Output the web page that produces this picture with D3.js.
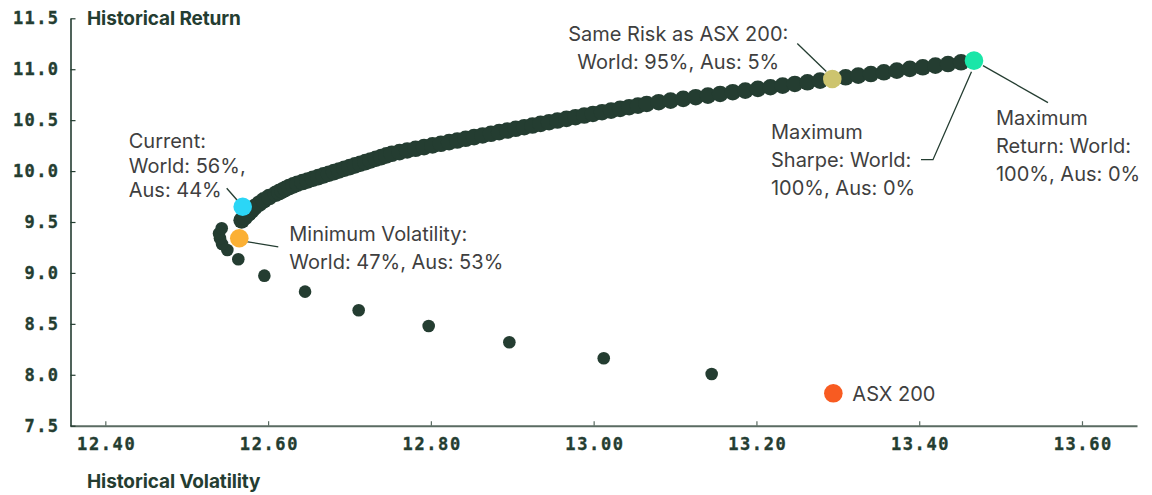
<!DOCTYPE html>
<html>
<head>
<meta charset="utf-8">
<script src="https://cdn.jsdelivr.net/npm/d3@7"></script>
<style>
  html, body { margin: 0; padding: 0; background: #ffffff; }
  svg { display: block; }
</style>
</head>
<body>
<svg id="chart" width="1152" height="495"></svg>
<script>
// ---------------- DATA ----------------
const xTickValues = [12.40, 12.60, 12.80, 13.00, 13.20, 13.40, 13.60];
const yTickValues = [7.5, 8.0, 8.5, 9.0, 9.5, 10.0, 10.5, 11.0, 11.5];
const xTitle = "Historical Volatility";
const yTitle = "Historical Return";

// lower branch of the portfolio set (volatility, return)
const lowerVol = [13.1450, 13.0124, 12.8964, 12.7973, 12.7113, 12.6454, 12.5954, 12.5634, 12.5499, 12.5434, 12.5409, 12.5397, 12.5430];
const lowerRet = [8.008, 8.162, 8.319, 8.479, 8.633, 8.816, 8.973, 9.134, 9.225, 9.284, 9.340, 9.387, 9.438];

// efficient frontier (volatility, return)
const frontierVol = [
  12.5675, 12.5715, 12.5756, 12.5795, 12.5835, 12.5891, 12.5946, 12.6013, 12.6096, 12.6136,
  12.6176, 12.6217, 12.6258, 12.6310, 12.6361, 12.6424, 12.6487, 12.6552, 12.6617, 12.6682,
  12.6747, 12.6810, 12.6873, 12.6938, 12.7003, 12.7068, 12.7133, 12.7197, 12.7260, 12.7325,
  12.7390, 12.7455, 12.7520, 12.7615, 12.7709, 12.7813, 12.7916, 12.8020, 12.8123, 12.8224,
  12.8324, 12.8428, 12.8531, 12.8635, 12.8738, 12.8839, 12.8939, 12.9043, 12.9147, 12.9248,
  12.9348, 12.9452, 12.9555, 12.9666, 12.9776, 12.9884, 12.9991, 13.0103, 13.0214, 13.0325,
  13.0436, 13.0544, 13.0652, 13.0799, 13.0945, 13.1100, 13.1254, 13.1404, 13.1554, 13.1709,
  13.1863, 13.2018, 13.2172, 13.2322, 13.2472, 13.2627, 13.2782, 13.2939, 13.3096, 13.3251,
  13.3406, 13.3566, 13.3725, 13.3885, 13.4044, 13.4199, 13.4354, 13.4514, 13.4673
];
const frontierRet = [
  9.516, 9.549, 9.582, 9.614, 9.647, 9.680, 9.712, 9.745, 9.778, 9.794,
  9.810, 9.827, 9.843, 9.860, 9.876, 9.892, 9.908, 9.925, 9.941, 9.958,
  9.974, 9.990, 10.006, 10.023, 10.039, 10.056, 10.072, 10.088, 10.104, 10.121,
  10.137, 10.154, 10.170, 10.186, 10.202, 10.219, 10.235, 10.252, 10.268, 10.284,
  10.300, 10.317, 10.333, 10.350, 10.366, 10.382, 10.398, 10.415, 10.431, 10.447,
  10.463, 10.480, 10.496, 10.513, 10.529, 10.545, 10.561, 10.578, 10.594, 10.611,
  10.627, 10.643, 10.659, 10.676, 10.692, 10.709, 10.725, 10.741, 10.757, 10.774,
  10.790, 10.807, 10.823, 10.839, 10.855, 10.872, 10.888, 10.905, 10.921, 10.937,
  10.953, 10.970, 10.986, 11.003, 11.019, 11.035, 11.051, 11.068, 11.084
];

// highlighted portfolios
const highlightKeys = ["current", "minVol", "sameRisk", "maxReturn", "asx"];
const highlightVol = [12.5688, 12.5646, 13.2932, 13.4673, 13.2945];
const highlightRet = [9.650, 9.340, 10.904, 11.084, 7.818];
const highlightText = [
  ["Current:", "World: 56%,", "Aus: 44%"],
  ["Minimum Volatility:", "World: 47%, Aus: 53%"],
  ["Same Risk as ASX 200:", "World: 95%, Aus: 5%"],
  ["Maximum", "Return: World:", "100%, Aus: 0%"],
  ["ASX 200"]
];
const sharpeText = ["Maximum", "Sharpe: World:", "100%, Aus: 0%"];

// ---------------- STYLE ----------------
const C = {
  dark: "#243d31",
  axis: "#5a6b62",
  text: "#3f3f3f",
  current: "#2bd6f6",
  minVol: "#fbb034",
  sameRisk: "#cdc46e",
  maxReturn: "#1ae6a8",
  asx: "#f85b21"
};
const annFont = "Inter, 'Noto Sans', sans-serif";
const tickFont = "'DejaVu Sans Mono', monospace";

const svg = d3.select("#chart");

const x = d3.scaleLinear().domain([12.3566, 13.6676]).range([70, 1137]);
const y = d3.scaleLinear().domain([7.5, 11.5]).range([425.7, 18.3]);

// ---------------- AXES ----------------
const xAxis = svg.append("g")
  .attr("transform", "translate(0,425.7)")
  .call(d3.axisBottom(x).tickValues(xTickValues).tickFormat(d3.format(".2f"))
    .tickSizeInner(-4.5).tickSizeOuter(0).tickPadding(12));
xAxis.select(".domain").attr("stroke", C.axis).attr("stroke-width", 2);
xAxis.selectAll(".tick line").attr("stroke", C.axis).attr("stroke-width", 1.2);
xAxis.selectAll(".tick text")
  .attr("fill", C.dark).attr("font-family", tickFont).attr("font-weight", "bold")
  .attr("font-size", 17).attr("letter-spacing", "1.6px").attr("dx", "0.8px")
  .attr("stroke", C.dark).attr("stroke-width", 0.35);

const yAxis = svg.append("g")
  .attr("transform", "translate(70.5,0)")
  .call(d3.axisLeft(y).tickValues(yTickValues).tickFormat(d3.format(".1f"))
    .tickSizeInner(-5).tickSizeOuter(0).tickPadding(11));
yAxis.select(".domain").attr("stroke", C.dark).attr("stroke-width", 1.6);
yAxis.selectAll(".tick line").attr("stroke", C.dark).attr("stroke-width", 1.2);
yAxis.selectAll(".tick text")
  .attr("fill", C.dark).attr("font-family", tickFont).attr("font-weight", "bold")
  .attr("font-size", 17).attr("letter-spacing", "1.4px")
  .attr("stroke", C.dark).attr("stroke-width", 0.35);

svg.append("text").text(yTitle)
  .attr("x", 87).attr("y", 25)
  .attr("fill", C.dark).attr("font-family", annFont).attr("font-weight", 700)
  .attr("font-size", 19).attr("letter-spacing", "-0.1px");
svg.append("text").text(xTitle)
  .attr("x", 87).attr("y", 487.5)
  .attr("fill", C.dark).attr("font-family", annFont).attr("font-weight", 700)
  .attr("font-size", 19).attr("letter-spacing", "-0.1px");

// ---------------- POINTS ----------------
const lower = lowerVol.map((v, i) => ({ v, r: lowerRet[i] }));
const frontier = frontierVol.map((v, i) => ({ v, r: frontierRet[i] }));

svg.append("g").selectAll("circle").data(lower).join("circle")
  .attr("cx", d => x(d.v)).attr("cy", d => y(d.r)).attr("r", 6.3)
  .attr("fill", C.dark);

svg.append("g").selectAll("circle").data(frontier).join("circle")
  .attr("cx", d => x(d.v)).attr("cy", d => y(d.r)).attr("r", 8.3)
  .attr("fill", C.dark);

const H = {};
highlightKeys.forEach((k, i) => { H[k] = { v: highlightVol[i], r: highlightRet[i], lines: highlightText[i] }; });
const px = k => x(H[k].v), py = k => y(H[k].r);

// leader lines
const leader = (pts) => svg.append("polyline")
  .attr("points", pts.map(p => p.join(",")).join(" "))
  .attr("fill", "none").attr("stroke", C.dark).attr("stroke-width", 1.3);

leader([[px("current") - 16, py("current") - 18.5], [px("current") - 5.5, py("current") - 6.5]]);
leader([[px("minVol") + 7, py("minVol") + 3.3], [px("minVol") + 39, py("minVol") + 8.5]]);
leader([[px("sameRisk") - 35, py("sameRisk") - 35.5], [px("sameRisk") - 6, py("sameRisk") - 7.5]]);
leader([[px("maxReturn") + 9, py("maxReturn") + 5], [px("maxReturn") + 74, py("maxReturn") + 42]]);
leader([[px("maxReturn") - 53, py("maxReturn") + 99], [px("maxReturn") - 41, py("maxReturn") + 99], [px("maxReturn") - 2.5, py("maxReturn") + 11]]);

const hl = ["current", "minVol", "sameRisk", "maxReturn", "asx"];
svg.append("g").selectAll("circle").data(hl).join("circle")
  .attr("cx", k => px(k)).attr("cy", k => py(k)).attr("r", 9.3)
  .attr("fill", k => C[k]);

// ---------------- TEXT ----------------
function block(lines, x0, y0, lh, anchor) {
  const t = svg.append("text")
    .attr("font-family", annFont).attr("font-size", 20).attr("fill", C.text)
    .attr("letter-spacing", "0px").attr("text-anchor", anchor || "start");
  lines.forEach((s, i) => t.append("tspan").attr("x", x0).attr("y", y0 + i * lh).text(s));
}
block(H.current.lines, px("current") - 114, py("current") - 58.5, 24.5);
block(H.minVol.lines, px("minVol") + 50, py("minVol") + 2.5, 28);
block(H.sameRisk.lines, px("sameRisk") - 154, py("sameRisk") - 38.5, 28, "middle");
block(H.maxReturn.lines, px("maxReturn") + 22, py("maxReturn") + 64, 28);
block(sharpeText, px("maxReturn") - 203, py("maxReturn") + 78, 28);
block(H.asx.lines, px("asx") + 19, py("asx") + 7.5, 28);
</script>
</body>
</html>
